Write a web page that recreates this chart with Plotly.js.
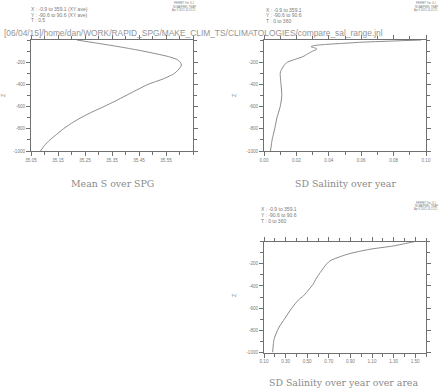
<!DOCTYPE html>
<html><head><meta charset="utf-8">
<script src="https://cdn.plot.ly/plotly-3.0.1.min.js"></script>
<style>html,body{margin:0;padding:0;background:#fff}#c{width:443px;height:388px}</style>
</head><body><div id="c"></div>
<script>
// Panel 1: Mean S over SPG
const depth1 = [0,-25,-50,-75,-100,-125,-150,-175,-200,-225,-250,-300,-350,-400,-450,-500,-550,-600,-650,-700,-750,-800,-850,-900,-950,-1000];
const sal1   = [35.22,35.285,35.35,35.41,35.465,35.515,35.56,35.59,35.603,35.607,35.602,35.582,35.54,35.483,35.442,35.402,35.362,35.32,35.275,35.235,35.2,35.17,35.145,35.12,35.1,35.085];
// Panel 2: SD Salinity over year
const depth2 = [0,-10,-20,-30,-40,-50,-60,-70,-80,-90,-100,-125,-150,-175,-200,-225,-250,-275,-300,-400,-500,-600,-700,-800,-900,-1000];
const sd2    = [0.097,0.078,0.06,0.049,0.038,0.031,0.029,0.031,0.0326,0.032,0.030,0.027,0.024,0.019,0.0145,0.0125,0.0115,0.0105,0.010,0.0105,0.011,0.010,0.008,0.0066,0.005,0.004];
// Panel 3: SD Salinity over year over area
const depth3 = [0,-20,-40,-70,-115,-175,-220,-280,-330,-385,-450,-490,-525,-600,-690,-780,-870,-920,-1000];
const sd3    = [1.5,1.4,1.3,1.08,0.87,0.71,0.665,0.62,0.585,0.555,0.5,0.465,0.42,0.357,0.295,0.235,0.196,0.187,0.18];
// tick labels
const yTickVals = [-1000,-800,-600,-400,-200];
const yTickText = ['-1000','-800','-600','-400','-200'];
const x1Ticks = [35.05,35.15,35.25,35.35,35.45,35.55];
const x2Ticks = [0.00,0.02,0.04,0.06,0.08,0.10];
const x3Ticks = [0.10,0.30,0.50,0.70,0.90,1.10,1.30,1.50];
// texts
const pathTitle = '[06/04/15]/home/dan/WORK/RAPID_SPG/MAKE_CLIM_TS/CLIMATOLOGIES/compare_sal_range.jnl';
const hdr1 = ['X : -0.9 to 359.1 (XY ave)','Y : -90.6 to 90.6 (XY ave)','T : 0.5'];
const hdr2 = ['X : -0.9 to 359.1','Y : -90.6 to 90.6','T : 0 to 360'];
const stamp = ['FERRET Ver. 6.1','NOAA/PMEL TMAP','Apr 9 2015 14:21:21'];
const titles = ['Mean S over SPG','SD Salinity over year','SD Salinity over year over area'];

const W=443,H=388;
const gray='#8a8a8a', axc='#707070', txt='#7a7a7a';
const tf={family:'Liberation Sans, Arial, sans-serif',size:4.6,color:txt};
function xa(dom,range,ticks,minorD,anchor){
  return {domain:dom,range:range,anchor:anchor,tickvals:ticks,ticktext:ticks.map(v=>v.toFixed(2)),
    ticks:'outside',ticklen:4,tickcolor:axc,tickwidth:1,showline:true,linecolor:axc,linewidth:1,mirror:'ticks',
    showgrid:false,zeroline:false,tickfont:tf,
    minor:{tick0:range[0],dtick:minorD,ticks:'outside',ticklen:3,tickcolor:axc,showgrid:false}};
}
function ya(dom,anchor){
  return {domain:dom,range:[-1000,0],anchor:anchor,tickvals:yTickVals,ticktext:yTickText,
    ticks:'outside',ticklen:4,tickcolor:axc,tickwidth:1,showline:true,linecolor:axc,linewidth:1,mirror:'ticks',
    showgrid:false,zeroline:false,tickfont:tf,
    minor:{tick0:0,dtick:100,ticks:'outside',ticklen:3,tickcolor:axc,showgrid:false}};
}
const px=v=>v/W, py=v=>1-v/H;
const dA=[px(31),px(193)], dB=[px(264),px(426)];
const yT=[py(151),py(40)], yB=[py(352.5),py(241.5)];

const data=[
 {x:sal1,y:depth1,xaxis:'x',yaxis:'y'},
 {x:sd2,y:depth2,xaxis:'x2',yaxis:'y2'},
 {x:sd3,y:depth3,xaxis:'x3',yaxis:'y3'}
];
data.forEach(d=>{d.mode='lines';d.line={color:gray,width:1,shape:'spline',smoothing:0.6};d.hoverinfo='skip';});

const ann=[];
function T(text,x,y,size,opts){ann.push(Object.assign({text:text,x:px(x),y:py(y),xref:'paper',yref:'paper',showarrow:false,
  xanchor:'left',yanchor:'middle',borderpad:0,font:{family:'Liberation Sans, Arial, sans-serif',size:size,color:txt}},opts||{}));}
T(pathTitle,3,33,8.4,{font:{family:'Liberation Sans, Arial, sans-serif',size:8.4,color:'#949494'}});
hdr1.forEach((s,i)=>T(s,30,9+i*5.6,5));
hdr2.forEach((s,i)=>T(s,264.5,9.5+i*5.6,5));
hdr2.forEach((s,i)=>T(s,260,209+i*6,5));
[[184,3.5],[426,3.5],[426,202.5]].forEach(p=>stamp.forEach((s,i)=>T(s,p[0],p[1]+i*3.3,2.6,{xanchor:'center'})));
const tfont={family:'DejaVu Serif, Liberation Serif, serif',size:9.4,color:'#8a8a8a'};
T(titles[0],112,183,9.4,{xanchor:'center',font:tfont});
T(titles[1],345,183,9.4,{xanchor:'center',font:tfont});
T(titles[2],343,382,9.4,{xanchor:'center',font:tfont});
[[3,96],[234,96],[234,296]].forEach(p=>T('Z',p[0],p[1],5,{xanchor:'center',textangle:-90}));

const layout={width:W,height:H,margin:{l:0,r:0,t:0,b:0},paper_bgcolor:'#fff',plot_bgcolor:'#fff',showlegend:false,
 xaxis:xa(dA,[35.05,35.65],x1Ticks,0.05,'y'), yaxis:ya(yT,'x'),
 xaxis2:xa(dB,[0,0.1],x2Ticks,0.01,'y2'), yaxis2:ya(yT,'x2'),
 xaxis3:xa(dB,[0.1,1.6],x3Ticks,0.1,'y3'), yaxis3:ya(yB,'x3'),
 annotations:ann};
Plotly.newPlot('c',data,layout,{staticPlot:true,displayModeBar:false});
</script></body></html>
